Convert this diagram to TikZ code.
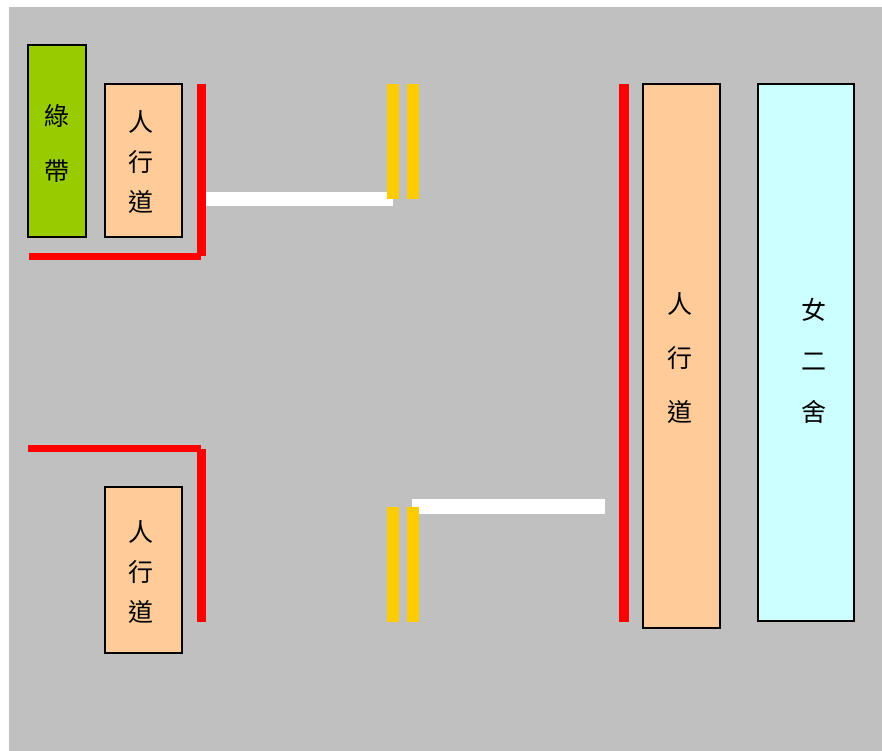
\documentclass[tikz,border=0pt]{standalone}
\usepackage{fontspec}
\newfontfamily\cjk{Noto Sans CJK TC}
\definecolor{roadGray}{HTML}{C0C0C0}
\definecolor{beltGreen}{HTML}{99CC00}
\definecolor{walkPeach}{HTML}{FFCC99}
\definecolor{dormCyan}{HTML}{CCFFFF}
\definecolor{stripYellow}{HTML}{FFCC00}
\begin{document}
\begin{tikzpicture}[x=1pt,y=-1pt]
	\tikzset{box/.style = {draw=black,line width=1.5pt,inner sep=0pt,outer sep=0pt}}
	\tikzset{narrowText/.style = {inner sep=0pt,align=center,font=\cjk\fontsize{25}{40}\selectfont}}
	\tikzset{wideText/.style = {inner sep=0pt,align=center,font=\cjk\fontsize{25}{51}\selectfont}}
	\tikzstyle{redLine} = [draw=red,line width=9pt]
	\tikzstyle{redThin} = [draw=red,line width=6.5pt]
	\tikzstyle{whiteBar} = [draw=white,line width=14.5pt]
	\tikzstyle{yellowBar} = [draw=stripYellow,line width=12pt]
	\useasboundingbox (0,0) rectangle (882,751);
	\fill[roadGray] (9,7) rectangle (882,751);
	%upper left
	\node[box,fill=beltGreen,minimum width=58pt,minimum height=192pt] (belt) at (57,141) {};
	\node[narrowText,font=\cjk\fontsize{25}{55}\selectfont] (beltText) at (57,143) {綠\\帶};
	\node[box,fill=walkPeach,minimum width=77pt,minimum height=153pt] (walkA) at (143.5,160.5) {};
	\node[narrowText] (walkAtext) at (141,162) {人\\行\\道};
	\coordinate (redAtop) at (201.5,84);
	\coordinate (redAcorner) at (201.5,256);
	\coordinate (redAleft) at (28.5,256.5);
	\coordinate (redAend) at (201,256.5);
	\draw[redLine] (redAtop) to (redAcorner);
	\draw[redThin] (redAleft) to (redAend);
	%lower left
	\node[box,fill=walkPeach,minimum width=77pt,minimum height=166pt] (walkB) at (143.5,570) {};
	\node[narrowText] (walkBtext) at (141,572) {人\\行\\道};
	\coordinate (redBleft) at (28,448.5);
	\coordinate (redBend) at (201,448.5);
	\coordinate (redBtop) at (201.5,449);
	\coordinate (redBbottom) at (201.5,621.5);
	\draw[redThin] (redBleft) to (redBend);
	\draw[redLine] (redBtop) to (redBbottom);
	%crossing, white bars below the yellow ones
	\coordinate (whiteAleft) at (206,199);
	\coordinate (whiteAright) at (393,199);
	\coordinate (whiteBleft) at (412,506.3);
	\coordinate (whiteBright) at (604.5,506.3);
	\draw[whiteBar] (whiteAleft) to (whiteAright);
	\draw[whiteBar] (whiteBleft) to (whiteBright);
	\coordinate (yellowAtop) at (393.3,84);
	\coordinate (yellowAbottom) at (393.3,199);
	\coordinate (yellowBtop) at (412.7,84);
	\coordinate (yellowBbottom) at (412.7,199);
	\coordinate (yellowCtop) at (393.3,506.7);
	\coordinate (yellowCbottom) at (393.3,621.7);
	\coordinate (yellowDtop) at (412.9,506.7);
	\coordinate (yellowDbottom) at (412.9,621.7);
	\draw[yellowBar] (yellowAtop) to (yellowAbottom);
	\draw[yellowBar] (yellowBtop) to (yellowBbottom);
	\draw[yellowBar] (yellowCtop) to (yellowCbottom);
	\draw[yellowBar] (yellowDtop) to (yellowDbottom);
	%right side
	\coordinate (redCtop) at (624,84);
	\coordinate (redCbottom) at (624,621.5);
	\draw[redLine,line width=9.5pt] (redCtop) to (redCbottom);
	\node[box,fill=walkPeach,minimum width=77pt,minimum height=544pt] (walkC) at (681.5,356) {};
	\node[wideText,font=\cjk\fontsize{25}{54}\selectfont] (walkCtext) at (679.5,358) {人\\行\\道};
	\node[box,fill=dormCyan,minimum width=96pt,minimum height=537pt] (dorm) at (806,352.5) {};
	\node[wideText] (dormText) at (814,361) {女\\二\\舍};
\end{tikzpicture}
\end{document}
